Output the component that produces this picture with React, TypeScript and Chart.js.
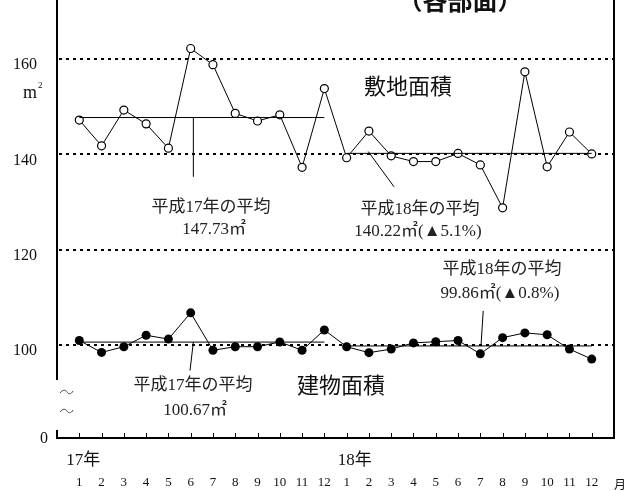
import React, { useEffect, useRef } from 'react';
import { Chart, registerables } from 'chart.js';

Chart.register(...registerables);

// ---- data ----
const monthLabels = ['1', '2', '3', '4', '5', '6', '7', '8', '9', '10', '11', '12', '1', '2', '3', '4', '5', '6', '7', '8', '9', '10', '11', '12'];
const yearLabels = ['17年', '18年'];
const siteArea = [147.2, 141.8, 149.3, 146.4, 141.3, 162.2, 158.8, 148.6, 147.0, 148.3, 137.3, 153.8, 139.3, 144.9, 139.7, 138.5, 138.5, 140.2, 137.8, 128.8, 157.3, 137.4, 144.7, 140.1];
const buildingArea = [101.0, 98.5, 99.7, 102.1, 101.3, 106.8, 98.95, 99.7, 99.7, 100.7, 98.95, 103.2, 99.7, 98.45, 99.2, 100.5, 100.75, 101.0, 98.2, 101.6, 102.6, 102.2, 99.2, 97.1];
const yTicks = [100, 120, 140, 160];
const siteAvg = [147.73, 140.22];
const buildingAvg = [100.67, 99.86];
const siteAvgText = ['平成17年の平均', '147.73㎡', '平成18年の平均', '140.22㎡(▲5.1%)'];
const buildingAvgText = ['平成17年の平均', '100.67㎡', '平成18年の平均', '99.86㎡(▲0.8%)'];
const seriesNames = ['敷地面積', '建物面積'];
const title = '（各部面）';

const Y_MIN = 80.57;
const Y_MAX = 172.36;

const SERIF = '"Liberation Serif", "Noto Sans CJK JP", serif';
const CJK = '"Noto Sans CJK JP", "Liberation Serif", sans-serif';

const pts = (arr: number[], offset: number) => arr.map((v, i) => ({ x: i + 1 + offset, y: v }));
const avgLine = (v: number, from: number, to: number) => [{ x: from, y: v }, { x: to, y: v }];

const decor = {
  id: 'decor',
  beforeDatasetsDraw(chart: any) {
    const { ctx, chartArea: a, scales } = chart;
    const x = scales.x;
    const y = scales.y;
    ctx.save();
    // dotted grid lines
    ctx.strokeStyle = '#000';
    ctx.lineWidth = 2;
    ctx.setLineDash([3, 4]);
    yTicks.forEach((v) => {
      const py = Math.round(y.getPixelForValue(v));
      ctx.beginPath();
      ctx.moveTo(a.left + 2, py);
      ctx.lineTo(a.right, py);
      ctx.stroke();
    });
    ctx.setLineDash([]);
    // axes (with break)
    ctx.lineWidth = 2;
    ctx.beginPath();
    ctx.moveTo(a.left, a.top);
    ctx.lineTo(a.left, a.bottom - 58);
    ctx.moveTo(a.left, a.bottom - 8);
    ctx.lineTo(a.left, a.bottom);
    ctx.lineTo(a.right, a.bottom);
    ctx.lineTo(a.right, a.top);
    ctx.stroke();
    // tick marks
    ctx.lineWidth = 1;
    monthLabels.forEach((_, i) => {
      const px = Math.round(x.getPixelForValue(i + 1)) + 0.5;
      ctx.beginPath();
      ctx.moveTo(px, a.bottom);
      ctx.lineTo(px, a.bottom - 5);
      ctx.stroke();
    });
    // tilde break marks
    ctx.lineWidth = 1;
    ctx.strokeStyle = '#444';
    [a.bottom - 46, a.bottom - 27].forEach((cy) => {
      ctx.beginPath();
      ctx.moveTo(a.left + 3, cy + 1);
      ctx.bezierCurveTo(a.left + 6, cy - 3, a.left + 9, cy - 2, a.left + 10, cy);
      ctx.bezierCurveTo(a.left + 11, cy + 2, a.left + 14, cy + 3, a.left + 16, cy - 1);
      ctx.stroke();
    });
    ctx.restore();
  },
  afterDraw(chart: any) {
    const { ctx, chartArea: a, scales } = chart;
    const x = scales.x;
    const y = scales.y;
    ctx.save();
    ctx.fillStyle = '#111';
    ctx.strokeStyle = '#000';
    // y tick labels
    ctx.font = `16px ${SERIF}`;
    ctx.textAlign = 'right';
    ctx.textBaseline = 'middle';
    yTicks.forEach((v) => {
      ctx.fillText(String(v), 37, y.getPixelForValue(v) + 6);
    });
    ctx.fillText('0', 48, a.bottom + 1);
    // unit m2
    ctx.font = `18px ${SERIF}`;
    ctx.textAlign = 'left';
    ctx.fillText('m', 23, y.getPixelForValue(160) + 34);
    ctx.font = `9px ${SERIF}`;
    ctx.fillText('2', 38, y.getPixelForValue(160) + 27);
    // x month labels
    ctx.font = `13px ${SERIF}`;
    ctx.textAlign = 'center';
    monthLabels.forEach((m, i) => {
      ctx.fillText(m, x.getPixelForValue(i + 1), a.bottom + 45);
    });
    ctx.font = `12px ${CJK}`;
    ctx.fillText('月', 620, a.bottom + 46);
    // year labels
    ctx.font = `17px ${SERIF}`;
    ctx.textAlign = 'left';
    ctx.fillText(yearLabels[0], x.getPixelForValue(1) - 13, a.bottom + 23);
    ctx.fillText(yearLabels[1], x.getPixelForValue(13) - 9, a.bottom + 23);

    // pointer lines
    ctx.lineWidth = 1;
    const seg = (x1: number, y1: number, x2: number, y2: number) => {
      ctx.beginPath();
      ctx.moveTo(x.getPixelForValue(x1), y.getPixelForValue(y1));
      ctx.lineTo(x.getPixelForValue(x2), y.getPixelForValue(y2));
      ctx.stroke();
    };
    seg(6.12, siteAvg[0], 6.12, 135.3);
    seg(13.97, 140.6, 15.13, 133.2);
    seg(6.12, buildingAvg[0], 5.97, 94.7);
    seg(19.13, 107.2, 19.03, buildingAvg[1]);

    // annotation texts
    ctx.fillStyle = '#222';
    ctx.textAlign = 'center';
    ctx.textBaseline = 'middle';
    ctx.font = `17px ${SERIF}`;
    ctx.fillText(siteAvgText[0], 211, 208);
    ctx.fillText(siteAvgText[1], 214, 230);
    ctx.fillText(siteAvgText[2], 420, 210);
    ctx.fillText(siteAvgText[3], 418, 232);
    ctx.fillText(buildingAvgText[0], 193, 386);
    ctx.fillText(buildingAvgText[1], 195, 411);
    ctx.fillText(buildingAvgText[2], 502, 270);
    ctx.fillText(buildingAvgText[3], 500, 294);

    ctx.font = `22px ${CJK}`;
    ctx.fillStyle = '#111';
    ctx.fillText(seriesNames[0], 408, 86);
    ctx.fillText(seriesNames[1], 341, 385);

    // title (cut off at top)
    ctx.font = `bold 25px ${CJK}`;
    ctx.textBaseline = 'alphabetic';
    ctx.fillText(title, 460, 10);
    ctx.restore();
  },
};

export default function App() {
  const ref = useRef<HTMLCanvasElement | null>(null);
  useEffect(() => {
    if (!ref.current) return;
    const lineBase = { borderColor: '#000', borderWidth: 1, tension: 0, fill: false };
    const chart = new Chart(ref.current, {
      type: 'line',
      data: {
        datasets: [
          { ...lineBase, label: 'avg17site', data: avgLine(siteAvg[0], 1, 12), pointRadius: 0 },
          { ...lineBase, label: 'avg18site', data: avgLine(siteAvg[1], 13, 24), pointRadius: 0 },
          { ...lineBase, label: 'avg17bld', data: avgLine(buildingAvg[0], 1, 12), pointRadius: 0 },
          { ...lineBase, label: 'avg18bld', data: avgLine(buildingAvg[1], 13, 24), pointRadius: 0 },
          {
            ...lineBase,
            label: seriesNames[0],
            data: pts(siteArea, 0),
            pointRadius: 4,
            pointBackgroundColor: '#fff',
            pointBorderColor: '#000',
            pointBorderWidth: 1.2,
          },
          {
            ...lineBase,
            label: seriesNames[1],
            data: pts(buildingArea, 0),
            pointRadius: 4.5,
            pointBackgroundColor: '#000',
            pointBorderColor: '#000',
            pointBorderWidth: 0,
          },
        ],
      },
      options: {
        responsive: false,
        animation: false,
        layout: { autoPadding: false, padding: { left: 57, right: 20, top: 0, bottom: 53 } },
        plugins: { legend: { display: false }, tooltip: { enabled: false }, title: { display: false } },
        scales: {
          x: { type: 'linear', min: 0, max: 25, display: false },
          y: { type: 'linear', min: Y_MIN, max: Y_MAX, display: false },
        },
      },
      plugins: [decor],
    });
    return () => chart.destroy();
  }, []);
  return (
    <div style={{ position: 'absolute', left: 0, top: 0, width: 634, height: 491, background: '#fff' }}>
      <canvas ref={ref} width={634} height={491} />
    </div>
  );
}
